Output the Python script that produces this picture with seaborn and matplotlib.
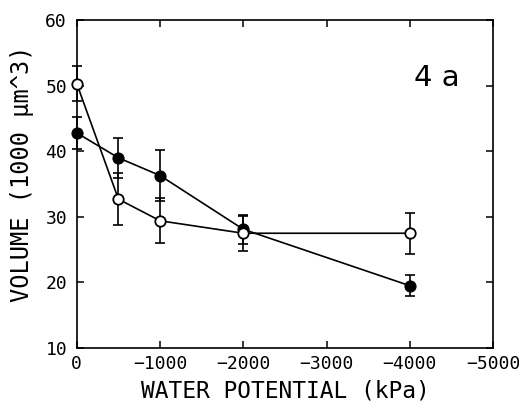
import matplotlib
matplotlib.use("Agg")
import matplotlib.pyplot as plt
import seaborn as sns
import pandas as pd

# Data
water_potential = [0, -500, -1000, -2000, -4000]
filled_volume = [42.8, 39.0, 36.3, 28.1, 19.5]
filled_err = [2.4, 3.0, 3.9, 2.2, 1.6]
open_volume = [50.3, 32.7, 29.4, 27.5, 27.5]
open_err = [2.7, 4.0, 3.4, 2.7, 3.1]

x_ticks = [0, -1000, -2000, -3000, -4000, -5000]
y_ticks = [10, 20, 30, 40, 50, 60]

sns.set_style("ticks")
plt.rcParams['font.family'] = ['DejaVu Sans Mono', 'DejaVu Sans']
plt.rcParams['text.color'] = 'black'
plt.rcParams['axes.labelcolor'] = 'black'
plt.rcParams['xtick.color'] = 'black'
plt.rcParams['ytick.color'] = 'black'

fig = plt.figure(figsize=(5.19, 4.03), dpi=100)
ax = fig.add_axes([0.148, 0.1365, 0.802, 0.8135])

df_f = pd.DataFrame({"x": water_potential, "y": filled_volume})
df_o = pd.DataFrame({"x": water_potential, "y": open_volume})

for vals, errs in [(filled_volume, filled_err), (open_volume, open_err)]:
    eb = ax.errorbar(water_potential, vals, yerr=errs, fmt='none',
                     ecolor='black', elinewidth=1.2, capsize=3.5, capthick=1.2, zorder=2)
    for art in list(eb.lines[1]) + list(eb.lines[2]):
        art.set_clip_on(False)

sns.lineplot(data=df_f, x="x", y="y", ax=ax, color='black', linewidth=1.2,
             marker='o', markersize=8, markerfacecolor='black',
             markeredgecolor='black', sort=False, zorder=3, clip_on=False)
sns.lineplot(data=df_o, x="x", y="y", ax=ax, color='black', linewidth=1.2,
             marker='o', markersize=7.5, markerfacecolor='white',
             markeredgecolor='black', markeredgewidth=1.3, sort=False, zorder=4,
             clip_on=False)

ax.set_xlim(0, -5000)
ax.set_ylim(10, 60)
ax.set_xticks(x_ticks)
ax.set_yticks(y_ticks)

ax.tick_params(direction='in', top=True, right=True, length=5, width=1.1,
               labelsize=13, colors='black', pad=5)
ax.tick_params(axis='y', pad=7)
for s in ax.spines.values():
    s.set_linewidth(1.2)
    s.set_color('black')

ax.set_xlabel("WATER POTENTIAL (kPa)", fontsize=16.5, labelpad=5)
ax.set_ylabel("VOLUME (1000 \u03bcm^3)", fontsize=17, va='center')
ax.yaxis.set_label_coords(-0.132, 0.53)

ax.text(0.81, 0.80, "4 a", transform=ax.transAxes, fontsize=21,
        family='DejaVu Sans', ha='left', va='baseline')

fig.savefig("out.png", dpi=100)
